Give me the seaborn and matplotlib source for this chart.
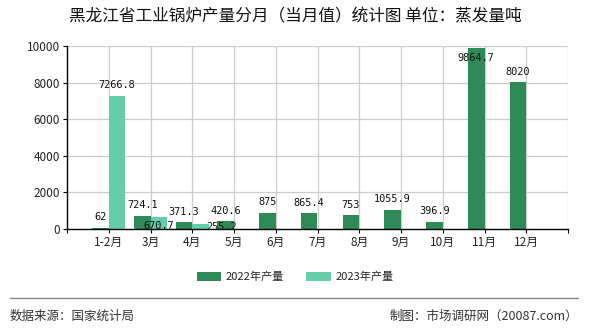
import numpy as np
import pandas as pd
import matplotlib
matplotlib.use("Agg")
import matplotlib.pyplot as plt
import seaborn as sns
from matplotlib.patches import Patch

months = ["1-2月", "3月", "4月", "5月", "6月", "7月", "8月", "9月", "10月", "11月", "12月"]
prod_2022 = [62, 724.1, 371.3, 420.6, 875, 865.4, 753, 1055.9, 396.9, 9864.7, 8020]
prod_2023 = [7266.8, 670.7, 255.2, np.nan, np.nan, np.nan, np.nan, np.nan, np.nan, np.nan, np.nan]
series_names = ["2022年产量", "2023年产量"]
colors = ["#2e8b57", "#66cdaa"]
title = "黑龙江省工业锅炉产量分月（当月值）统计图 单位：蒸发量吨"
y_ticks = [0, 2000, 4000, 6000, 8000, 10000]

sns.set_theme(style="white")
plt.rcParams["font.family"] = ["Noto Sans CJK SC", "DejaVu Sans"]

df = pd.DataFrame({
    "month": months * 2,
    "value": prod_2022 + prod_2023,
    "series": [series_names[0]] * len(months) + [series_names[1]] * len(months),
})

fig = plt.figure(figsize=(5.9, 3.3), dpi=100)
ax = fig.add_axes([67 / 590, 1 - 229 / 330, 501 / 590, 183 / 330])

sns.barplot(data=df.dropna(), x="month", y="value", hue="series", order=months,
            hue_order=series_names, palette=colors, width=0.8, saturation=1,
            legend=False, ax=ax, linewidth=0, dodge=True)

ax.set_xlim(-1, len(months))
ax.set_ylim(0, 10000)
ax.set_yticks(y_ticks)
ax.set_yticklabels([str(v) for v in y_ticks], fontsize=8.5, color="#222222")
ax.set_xticks(range(len(months)))
ax.set_xticklabels(months, fontsize=8.5, color="#222222")
ax.set_xlabel("")
ax.set_ylabel("")

# grid
for v in y_ticks:
    ax.axhline(v, color="#cccccc", lw=0.9, zorder=0)
for i in range(len(months) + 1):
    ax.axvline(i, color="#cccccc", lw=0.9, zorder=0)

for s in ["top", "right"]:
    ax.spines[s].set_visible(False)
for s in ["left", "bottom"]:
    ax.spines[s].set_color("black")
    ax.spines[s].set_linewidth(1.0)
ax.tick_params(axis="both", which="both", length=3, width=0.8, color="black",
               direction="out", bottom=True, left=True, pad=2)
ax.set_xticks([-1, len(months)], minor=True)
ax.tick_params(axis="x", which="minor", length=3, width=0.8, color="black")

# value labels (with nudges as in the reference, in pixels)
nudges = {(1, 1): (0, -20), (1, 2): (21, -13), (0, 9): (0, -20)}
for si, cont in enumerate(ax.containers):
    vals = prod_2022 if si == 0 else prod_2023
    valid = [i for i, v in enumerate(vals) if not np.isnan(v)]
    for bar, idx in zip(cont.patches, valid):
        v = vals[idx]
        txt = f"{v:g}"
        dx, dy = nudges.get((si, idx), (0, 0))
        ax.annotate(txt, (bar.get_x() + bar.get_width() / 2, bar.get_height()),
                    xytext=(dx * 0.72, 4 + dy * 0.72), textcoords="offset points",
                    ha="center", va="bottom", fontsize=7.4, color="#111111",
                    family=["DejaVu Sans Mono"], zorder=5)

fig.text(0.5, 1 - 17 / 330, title, ha="center", va="center", fontsize=12, color="#111111")

handles = [Patch(facecolor=c, edgecolor="none") for c in colors]
fig.legend(handles, series_names, loc="center", bbox_to_anchor=(0.5, 1 - 277 / 330),
           ncol=2, frameon=False, fontsize=8, handlelength=2.2, handleheight=0.8,
           columnspacing=2.0, handletextpad=0.4)

fig.add_artist(plt.Line2D([10 / 590, 578 / 590], [1 - 298 / 330, 1 - 298 / 330],
                          color="#888888", lw=1.0))
fig.text(10 / 590, 1 - 316 / 330, "数据来源：国家统计局", ha="left", va="center",
         fontsize=9, color="#333333")
fig.text(578 / 590, 1 - 316 / 330, "制图：市场调研网（20087.com）", ha="right", va="center",
         fontsize=9, color="#333333")

fig.savefig("out.png", dpi=100)
